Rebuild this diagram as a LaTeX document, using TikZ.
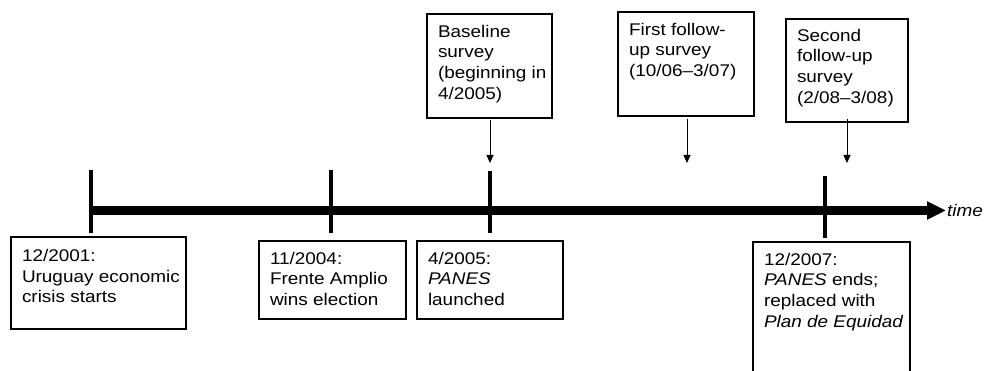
\documentclass[tikz,border=0pt]{standalone}
\usepackage{fontspec}
\setmainfont[FakeStretch=1.12]{Liberation Sans}
\usetikzlibrary{arrows.meta}
\begin{document}
\begin{tikzpicture}[x=1pt,y=-1pt,
  box/.style={draw, line width=2pt, inner sep=0, outer sep=0, anchor=north west},
  txt/.style={inner sep=0, outer sep=0, anchor=north west, align=left,
    font=\fontsize{16.9}{20.6}\selectfont},
  tick/.style={line width=4.5pt},
  arr/.style={line width=0.9pt, -{Triangle[length=8pt,width=7pt]}}]
\useasboundingbox (0,0) rectangle (985,371);
% timeline
\coordinate (t0) at (89,210.5);
\coordinate (tend) at (946,210.5);
\draw[line width=9pt, -{Triangle[length=19pt,width=17pt]}] (t0) -- (tend);
\node[inner sep=0, anchor=west, font=\fontsize{16.9}{20.6}\selectfont\itshape] (tm) at (947,210.5) {time};
% ticks
\coordinate (k1a) at (91,170); \coordinate (k1b) at (91,233);
\coordinate (k2a) at (331,170); \coordinate (k2b) at (331,233);
\coordinate (k3a) at (490,171); \coordinate (k3b) at (490,233);
\coordinate (k4a) at (825,176); \coordinate (k4b) at (825,238);
\draw[tick] (k1a) -- (k1b);
\draw[tick] (k2a) -- (k2b);
\draw[tick] (k3a) -- (k3b);
\draw[tick] (k4a) -- (k4b);
% lower boxes
\node[box, minimum width=175pt, minimum height=92pt] (b1) at (11,237) {};
\node[txt] (t1) at ([xshift=11pt,yshift=-12.5pt]b1.north west) {12/2001:\\Uruguay economic\\crisis starts};
\node[box, minimum width=147pt, minimum height=78pt] (b2) at (259,241) {};
\node[txt] (t2) at ([xshift=11pt,yshift=-11pt]b2.north west) {11/2004:\\Frente Amplio\\wins election};
\node[box, minimum width=146pt, minimum height=78pt] (b3) at (417,241) {};
\node[txt] (t3) at ([xshift=11pt,yshift=-11pt]b3.north west) {4/2005:\\\textit{PANES}\\launched};
\node[inner sep=0, outer sep=0, anchor=north west, minimum width=157pt, minimum height=130pt] (b4) at (753,242) {};
\draw[line width=2pt] (b4.south west) -- (b4.north west) -- (b4.north east) -- (b4.south east);
\node[txt] (t4) at ([xshift=11pt,yshift=-11pt]b4.north west) {12/2007:\\\textit{PANES} ends;\\replaced with\\\textit{Plan de Equidad}};
% upper boxes
\node[box, minimum width=125pt, minimum height=104pt] (bs) at (427,14) {};
\node[txt] (ts) at ([xshift=11pt,yshift=-11pt]bs.north west) {Baseline\\survey\\(beginning in\\4/2005)};
\node[box, minimum width=136pt, minimum height=104pt] (bf) at (618,12) {};
\node[txt] (tf) at ([xshift=11pt,yshift=-11pt]bf.north west) {First follow-\\up survey\\(10/06--3/07)};
\node[box, minimum width=122pt, minimum height=103pt] (bsc) at (786,19) {};
\node[txt] (tsc) at ([xshift=11pt,yshift=-10pt]bsc.north west) {Second\\follow-up\\survey\\(2/08--3/08)};
% arrows
\coordinate (e1) at (490,163);
\coordinate (e2) at (687,163);
\coordinate (e3) at (847,163);
\draw[arr] (bs.south -| e1) ++(0,2) -- (e1);
\draw[arr] (bf.south -| e2) ++(0,3) -- (e2);
\draw[arr] (bsc.south -| e3) ++(0,-3) -- (e3);
\end{tikzpicture}
\end{document}
